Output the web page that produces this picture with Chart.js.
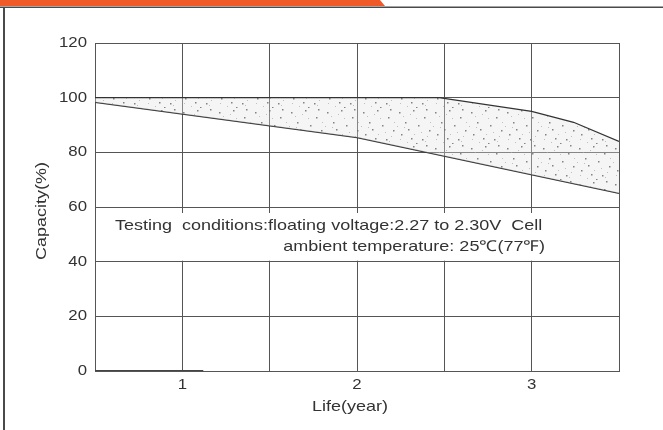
<!DOCTYPE html>
<html>
<head>
<meta charset="utf-8">
<script src="https://cdn.jsdelivr.net/npm/chart.js@4/dist/chart.umd.min.js"></script>
<style>
  html, body { margin: 0; padding: 0; background: #fff; }
  #wrap { width: 663px; height: 430px; }
</style>
</head>
<body>
<div id="wrap"><canvas id="lifeChart" width="663" height="430"></canvas></div>
<script>
// values
const upperYears = [0.5, 2.47, 3.0, 3.24, 3.5];
const upperCapacity = [100, 100, 95, 91, 84];
const lowerYears = [0.5, 2.0, 3.5];
const lowerCapacity = [98.3, 85.4, 65];
const baseYears = [0.5, 1.12];
const baseCapacity = [0, 0];
const yearTicks = [1, 2, 3];
const capacityTicks = [0, 20, 40, 60, 80, 100, 120];
const xTitle = 'Life(year)';
const yTitle = 'Capacity(%)';
const noteLines = [
  'Testing  conditions:floating voltage:2.27 to 2.30V  Cell',
  'ambient temperature: 25\u2103(77\u2109)'
];

const FONT = '"Liberation Sans", Arial, sans-serif';
const INK = '#333';
const STRETCH = 1.2; // the printed lettering is a little wide

function toPoints(xs, ys) {
  return xs.map((x, i) => ({ x: x, y: ys[i] }));
}

function wideText(ctx, text, x, y, align, size, angle) {
  ctx.save();
  ctx.translate(x, y);
  if (angle) ctx.rotate(angle);
  ctx.scale(STRETCH, 1);
  ctx.font = size + 'px ' + FONT;
  ctx.fillStyle = INK;
  ctx.textAlign = align;
  ctx.textBaseline = 'middle';
  ctx.fillText(text, 0, 0);
  ctx.restore();
}

// stippled fill like the printed chart
function makeStipple() {
  const c = document.createElement('canvas');
  c.width = 36; c.height = 36;
  const g = c.getContext('2d');
  g.fillStyle = 'rgba(225,225,225,0.35)';
  g.fillRect(0, 0, 36, 36);
  const dark = [[3,4],[17,2],[28,9],[9,14],[22,17],[33,22],[5,26],[15,30],[26,31],[12,21],[30,1],[20,35]];
  const light = [[7,8],[20,10],[1,18],[25,24],[11,34],[34,14],[18,26],[29,33],[4,31],[14,6],[31,28],[8,19]];
  g.fillStyle = 'rgba(110,110,110,0.85)';
  dark.forEach(p => g.fillRect(p[0], p[1], 1.5, 1.5));
  g.fillStyle = 'rgba(170,170,170,0.7)';
  light.forEach(p => g.fillRect(p[0], p[1], 1, 1));
  return c;
}

const framePlugin = {
  id: 'frame',
  beforeDraw(chart) {
    const ctx = chart.ctx;
    ctx.save();
    ctx.fillStyle = '#fff';
    ctx.fillRect(0, 0, chart.width, chart.height);
    // orange header tab
    ctx.fillStyle = '#f05a28';
    ctx.beginPath();
    ctx.moveTo(0, 0);
    ctx.lineTo(380, 0);
    ctx.lineTo(385, 6);
    ctx.lineTo(0, 6);
    ctx.closePath();
    ctx.fill();
    // box lines
    ctx.strokeStyle = '#4a4a4a';
    ctx.lineWidth = 1.5;
    ctx.beginPath();
    ctx.moveTo(0, 7.25);
    ctx.lineTo(chart.width, 7.25);
    ctx.stroke();
    ctx.lineWidth = 2;
    ctx.beginPath();
    ctx.moveTo(4, 7);
    ctx.lineTo(4, chart.height);
    ctx.stroke();
    ctx.restore();
  },
  afterDraw(chart) {
    const ctx = chart.ctx;
    const area = chart.chartArea;
    const xs = chart.scales.x;
    const ys = chart.scales.y;

    // blank band behind the test-condition note
    ctx.save();
    ctx.fillStyle = '#fff';
    ctx.fillRect(area.left + 1, ys.getPixelForValue(60) + 6, area.right - area.left - 2,
      ys.getPixelForValue(40) - ys.getPixelForValue(60) - 7);
    ctx.restore();

    capacityTicks.forEach(v => wideText(ctx, String(v), area.left - 8, ys.getPixelForValue(v), 'right', 14));
    yearTicks.forEach(v => wideText(ctx, String(v), xs.getPixelForValue(v), area.bottom + 14, 'center', 14));
    wideText(ctx, xTitle, 350, area.bottom + 36, 'center', 15);
    wideText(ctx, yTitle, 42, 211, 'center', 15, -Math.PI / 2);

    wideText(ctx, noteLines[0], area.left + 20, 226, 'left', 15);
    wideText(ctx, noteLines[1], area.left + 450, 247, 'right', 15);
  }
};

const ctx = document.getElementById('lifeChart');
const stipple = ctx.getContext('2d').createPattern(makeStipple(), 'repeat');

new Chart(ctx, {
  type: 'line',
  data: {
    datasets: [
      {
        label: 'upper',
        data: toPoints(upperYears, upperCapacity),
        borderColor: '#333',
        borderWidth: 1.3,
        pointRadius: 0,
        tension: 0,
        fill: '+1',
        backgroundColor: stipple
      },
      {
        label: 'lower',
        data: toPoints(lowerYears, lowerCapacity),
        borderColor: '#333',
        borderWidth: 1.3,
        pointRadius: 0,
        tension: 0,
        fill: false
      },
      {
        label: 'base',
        data: toPoints(baseYears, baseCapacity),
        borderColor: '#444',
        borderWidth: 2,
        pointRadius: 0,
        fill: false
      }
    ]
  },
  options: {
    responsive: false,
    animation: false,
    layout: { padding: { left: 0, top: 43, right: 44, bottom: 0 } },
    plugins: {
      legend: { display: false },
      tooltip: { enabled: false }
    },
    scales: {
      x: {
        type: 'linear',
        min: 0.5,
        max: 3.5,
        afterFit: s => { s.height = 59; },
        grid: { color: '#555', lineWidth: 1, drawTicks: false },
        border: { color: '#555', width: 1 },
        ticks: { stepSize: 0.5, display: false }
      },
      y: {
        min: 0,
        max: 120,
        afterFit: s => { s.width = 95; },
        grid: { color: '#555', lineWidth: 1, drawTicks: false },
        border: { color: '#555', width: 1 },
        ticks: { stepSize: 20, display: false }
      }
    }
  },
  plugins: [framePlugin]
});
</script>
</body>
</html>
